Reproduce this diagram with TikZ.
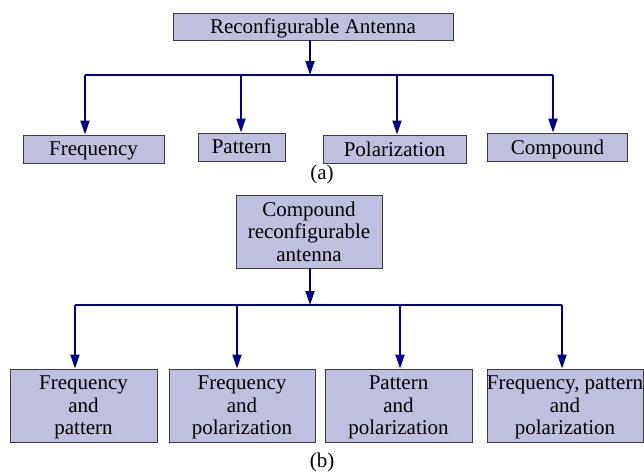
\documentclass[tikz,border=0pt]{standalone}
\usepackage{fontspec}
\setmainfont{Liberation Serif}
\usetikzlibrary{arrows.meta}
\definecolor{boxfill}{RGB}{191,191,223}
\definecolor{boxline}{RGB}{60,60,60}
\definecolor{wire}{RGB}{0,0,140}
\tikzset{
  box/.style={draw=boxline, line width=0.9pt, fill=boxfill, inner sep=0pt,
    align=center, text depth=0pt, font=\fontsize{21}{22.5}\selectfont},
  bus/.style={draw=wire, line width=1.8pt},
  feed/.style={bus, -{Triangle[length=14pt,width=9pt]}},
  caption/.style={font=\fontsize{21}{22.5}\selectfont, inner sep=0pt}
}
\begin{document}
\begin{tikzpicture}[x=1pt,y=-1pt]
\useasboundingbox (0,0) rectangle (644,471);

% (a) kinds of reconfigurable antenna
\node[box, minimum width=280, minimum height=27] (top) at (313,26.5) {Reconfigurable Antenna};
\node[box, minimum width=141, minimum height=28] (freq) at (93.5,149) {Frequency};
\node[box, minimum width=87, minimum height=28] (patt) at (241.5,147) {Pattern};
\node[box, minimum width=143, minimum height=28] (pol) at (394.5,149) {Polarization};
\node[box, minimum width=140, minimum height=28] (comp) at (557.5,147) {Compound};
\node[caption] (capa) at (322,174.5) {(a)};

\coordinate (ta) at (310,75);
\coordinate (a1) at (85,75);
\coordinate (a2) at (241,75);
\coordinate (a3) at (397,75);
\coordinate (a4) at (553,75);
\draw[bus] (a1) -- (a4);
\draw[feed] (ta |- top.south) -- (ta);
\draw[feed] (a1) -- (a1 |- freq.north);
\draw[feed] (a2) -- (a2 |- patt.north);
\draw[feed] (a3) -- (a3 |- pol.north);
\draw[feed] (a4) -- (a4 |- comp.north);

% (b) kinds of compound reconfigurable antenna
\node[box, minimum width=146, minimum height=73] (cra) at (309,231.5) {Compound\\reconfigurable\\antenna};
\node[box, minimum width=147, minimum height=73] (fp) at (83.5,405.5) {Frequency\\and\\pattern};
\node[box, minimum width=146, minimum height=73] (fpol) at (242,405.5) {Frequency\\and\\polarization};
\node[box, minimum width=147, minimum height=73] (ppol) at (398.5,405.5) {Pattern\\and\\polarization};
\node[box, minimum width=156, minimum height=73] (all) at (565,405.5) {Frequency, pattern\\and\\polarization};
\node[caption] (capb) at (322,462.5) {(b)};

\coordinate (tb) at (310,305);
\coordinate (b1) at (75,305);
\coordinate (b2) at (237,305);
\coordinate (b3) at (400,305);
\coordinate (b4) at (562,305);
\draw[bus] (b1) -- (b4);
\draw[feed] (tb |- cra.south) -- (tb);
\draw[feed] (b1) -- (b1 |- fp.north);
\draw[feed] (b2) -- (b2 |- fpol.north);
\draw[feed] (b3) -- (b3 |- ppol.north);
\draw[feed] (b4) -- (b4 |- all.north);
\end{tikzpicture}
\end{document}
